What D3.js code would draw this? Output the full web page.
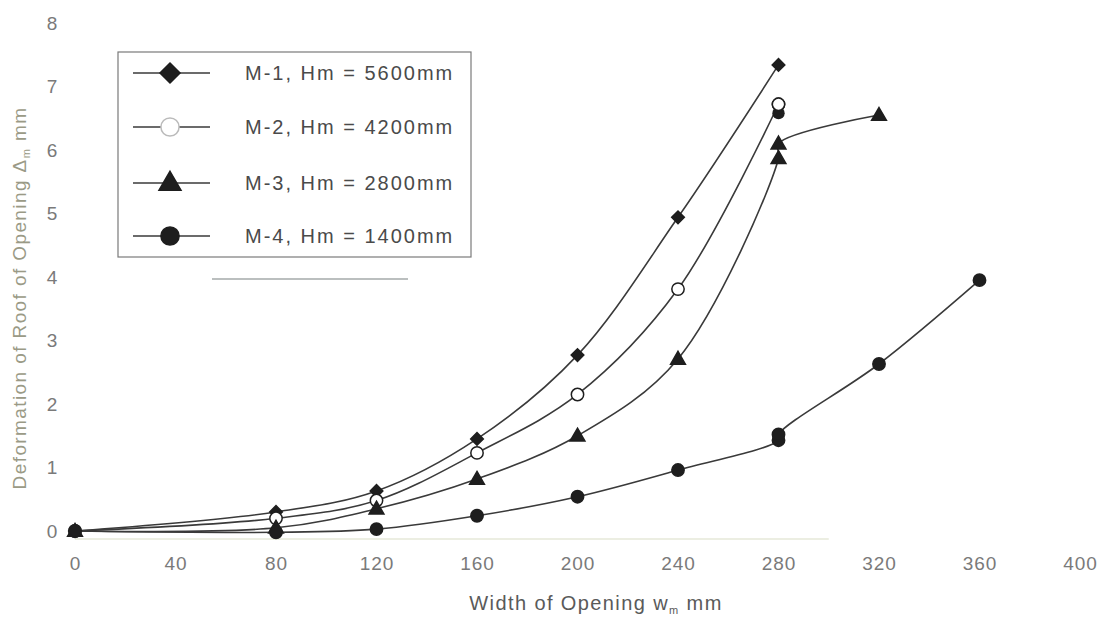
<!DOCTYPE html>
<html>
<head>
<meta charset="utf-8">
<script src="https://cdn.jsdelivr.net/npm/d3@7"></script>
<style>
  body { margin: 0; background: #fff; }
  svg text { font-family: "Liberation Sans", Arial, sans-serif; }
</style>
</head>
<body>
<div id="chart"></div>
<script>
// values
var xTicks = [0, 40, 80, 120, 160, 200, 240, 280, 320, 360, 400];
var yTicks = [0, 1, 2, 3, 4, 5, 6, 7, 8];
var seriesNames = ["M-1, Hm = 5600mm", "M-2, Hm = 4200mm", "M-3, Hm = 2800mm", "M-4, Hm = 1400mm"];
var m1 = [[0, 0], [80, 0.3], [120, 0.63], [160, 1.45], [200, 2.77], [240, 4.94], [280, 7.34]];
var m2 = [[0, 0], [80, 0.2], [120, 0.48], [160, 1.23], [200, 2.15], [240, 3.81], [280, 6.72]];
var m3 = [[0, 0], [80, 0.05], [120, 0.35], [160, 0.82], [200, 1.5], [240, 2.71], [280, 5.87], [280, 6.1], [320, 6.55]];
var m4 = [[0, 0], [80, -0.02], [120, 0.03], [160, 0.24], [200, 0.54], [240, 0.96], [280, 1.43], [280, 1.52], [320, 2.63], [360, 3.95]];
var extraPoints = [[280, 6.58]];

var w = 1108, h = 618;
var svg = d3.select("#chart").append("svg")
  .attr("width", w)
  .attr("height", h);

var x = d3.scaleLinear().domain([0, 400]).range([75, 1080]);
var y = d3.scaleLinear().domain([0, 8]).range([531, 23]);

// axes (the scan barely shows the axis lines)
var xAxis = svg.append("g")
  .attr("transform", "translate(0,539)")
  .call(d3.axisBottom(x).tickValues(xTicks).tickSize(0).tickPadding(18));
xAxis.select(".domain").attr("stroke", "#eceee2").attr("stroke-width", 2)
  .attr("d", "M" + x(0) + ",0H" + x(300));
xAxis.selectAll("text").attr("font-size", 19).attr("fill", "#7a7a7a").style("letter-spacing", "1px");

var yAxis = svg.append("g")
  .attr("transform", "translate(75,0)")
  .call(d3.axisLeft(y).tickValues(yTicks).tickSize(0).tickPadding(0));
yAxis.select(".domain").remove();
yAxis.selectAll("text").attr("font-size", 19).attr("fill", "#7a7a7a")
  .attr("text-anchor", "middle").attr("x", -23);

// titles
svg.append("text")
  .attr("x", 596).attr("y", 610)
  .attr("text-anchor", "middle")
  .attr("font-size", 20).attr("fill", "#5a5a5a")
  .style("letter-spacing", "1.4px")
  .html('Width of Opening w<tspan font-size="11" dy="4">m</tspan><tspan dy="-4"> mm</tspan>');

svg.append("text")
  .attr("transform", "translate(26,298) rotate(-90)")
  .attr("text-anchor", "middle")
  .attr("font-size", 19).attr("fill", "#9a9a86")
  .style("letter-spacing", "1.4px")
  .html('Deformation of Roof of Opening \u0394<tspan font-size="11" dy="4">m</tspan><tspan dy="-4"> mm</tspan>');

// series
var series = [
  { data: m1, sym: "diamond", fill: "#1e1e1e" },
  { data: m2, sym: "circle", fill: "#fff" },
  { data: m3, sym: "triangle", fill: "#1e1e1e" },
  { data: m4, sym: "circle", fill: "#1e1e1e" }
];

function symPath(kind, size) {
  if (kind == "diamond") return d3.symbol(d3.symbolSquare, size)();
  if (kind == "triangle") return d3.symbol(d3.symbolTriangle, size)();
  return d3.symbol(d3.symbolCircle, size)();
}
function symTransform(kind, px, py) {
  if (kind == "diamond") return "translate(" + px + "," + py + ") rotate(45)";
  if (kind == "triangle") return "translate(" + px + "," + (py + 1) + ")";
  return "translate(" + px + "," + py + ")";
}

var line = d3.line()
  .x(function(d) { return x(d[0]); })
  .y(function(d) { return y(d[1]); })
  .curve(d3.curveCatmullRom.alpha(0.5));

series.forEach(function(s) {
  svg.append("path")
    .attr("d", line(s.data))
    .attr("fill", "none")
    .attr("stroke", "#3a3a3a")
    .attr("stroke-width", 1.6);
});

series.forEach(function(s) {
  var size = s.sym == "diamond" ? 80 : (s.sym == "triangle" ? 95 : 120);
  svg.selectAll(null)
    .data(s.data)
    .enter()
    .append("path")
    .attr("d", symPath(s.sym, size))
    .attr("transform", function(d) { return symTransform(s.sym, x(d[0]), y(d[1])); })
    .attr("fill", s.fill)
    .attr("stroke", "#1e1e1e")
    .attr("stroke-width", 1.5);
});

svg.selectAll(null)
  .data(extraPoints)
  .enter()
  .append("path")
  .attr("d", symPath("circle", 120))
  .attr("transform", function(d) { return symTransform("circle", x(d[0]), y(d[1])); })
  .attr("fill", "#1e1e1e");

// redraw the open circle on top of the extra point
svg.append("path")
  .attr("d", symPath("circle", 120))
  .attr("transform", symTransform("circle", x(m2[m2.length - 1][0]), y(m2[m2.length - 1][1])))
  .attr("fill", "#fff").attr("stroke", "#1e1e1e").attr("stroke-width", 1.5);

// legend
var legend = svg.append("g");
legend.append("rect")
  .attr("x", 118).attr("y", 52)
  .attr("width", 353).attr("height", 205)
  .attr("fill", "none")
  .attr("stroke", "#7a7a7a")
  .attr("stroke-width", 1.2);
legend.append("line")
  .attr("x1", 212).attr("x2", 408).attr("y1", 279).attr("y2", 279)
  .attr("stroke", "#a4aaaa").attr("stroke-width", 1.5);

var legY = [73, 127, 183, 236];
series.forEach(function(s, i) {
  var g = legend.append("g").attr("transform", "translate(0," + legY[i] + ")");
  g.append("line")
    .attr("x1", 133).attr("x2", 210)
    .attr("stroke", "#3a3a3a").attr("stroke-width", 1.5);
  var size = s.sym == "diamond" ? 200 : (s.sym == "triangle" ? 210 : 260);
  g.append("path")
    .attr("d", symPath(s.sym, size))
    .attr("transform", symTransform(s.sym, 170, 0))
    .attr("fill", s.fill)
    .attr("stroke", s.sym == "circle" && s.fill == "#fff" ? "#bbb" : "#1e1e1e")
    .attr("stroke-width", 1.5);
  g.append("text")
    .attr("x", 245).attr("y", 7)
    .attr("font-size", 20).attr("fill", "#4a4a4a")
    .style("letter-spacing", "2px")
    .text(seriesNames[i]);
});
</script>
</body>
</html>
